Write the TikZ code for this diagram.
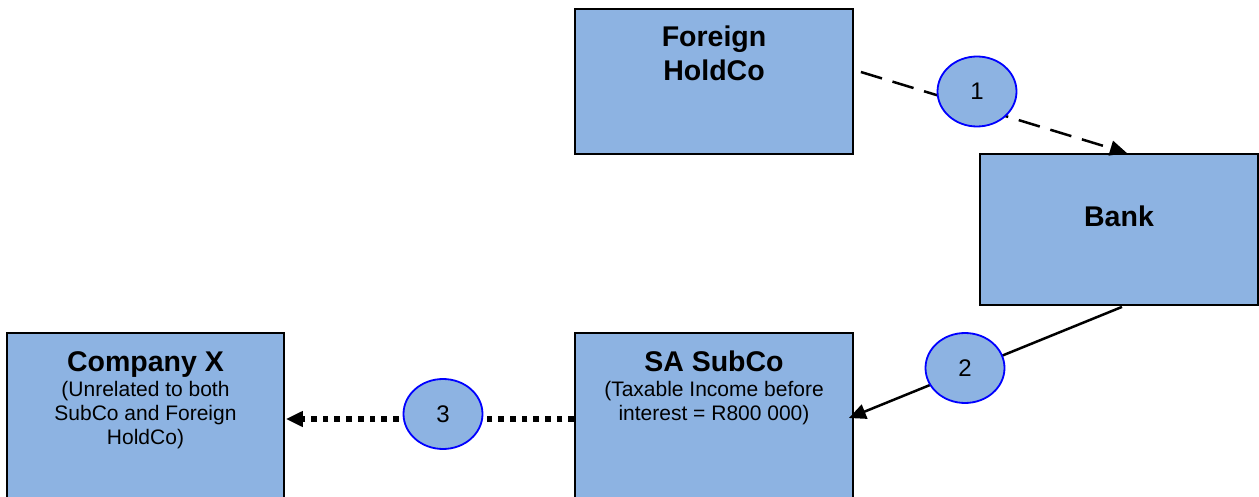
\documentclass[tikz,border=0pt]{standalone}
\usepackage{fontspec}
\setmainfont{Liberation Sans}
\usetikzlibrary{arrows.meta,shapes.geometric,calc}
\definecolor{boxblue}{RGB}{141,179,226}
\definecolor{ringblue}{RGB}{0,0,255}
\tikzset{
  box/.style={draw=black,line width=1.8pt,fill=boxblue,rectangle,inner sep=0pt},
  badge/.style={draw=ringblue,line width=1.8pt,fill=boxblue,ellipse,inner sep=0pt,minimum width=79pt,minimum height=70pt,font=\fontsize{24}{28}\selectfont},
  ttl/.style={anchor=base,inner sep=0pt,font=\bfseries\fontsize{28.5}{33}\selectfont},
  sub/.style={anchor=base,inner sep=0pt,font=\fontsize{21}{24.5}\selectfont},
  tip/.style={-{Triangle[length=17pt,width=15pt]}},
}
\begin{document}
\begin{tikzpicture}[x=1pt,y=-1pt]
\useasboundingbox (0,0) rectangle (1259,497);
\clip (0,0) rectangle (1259,497);
% boxes
\node[box,minimum width=278pt,minimum height=145pt] (fh) at (714,81.5) {};
\node[box,minimum width=278pt,minimum height=151pt] (bank) at (1119,229.5) {};
\node[box,minimum width=277pt,minimum height=200pt] (cx) at (145.5,433) {};
\node[box,minimum width=278pt,minimum height=200pt] (sa) at (714,433) {};
% texts
\node[ttl] (fh1) at ($(fh.north)+(0,38.5)$) {Foreign};
\node[ttl] (fh2) at ($(fh.north)+(0,72)$) {HoldCo};
\node[ttl] (bk1) at ($(bank.north)+(0,73)$) {Bank};
\node[ttl] (cx1) at ($(cx.north)+(0,39)$) {Company X};
\node[sub] (cx2) at ($(cx.north)+(0,64)$) {(Unrelated to both};
\node[sub] (cx3) at ($(cx.north)+(0,88)$) {SubCo and Foreign};
\node[sub] (cx4) at ($(cx.north)+(0,112)$) {HoldCo)};
\node[ttl] (sa1) at ($(sa.north)+(0,39)$) {SA SubCo};
\node[sub] (sa2) at ($(sa.north)+(0,64)$) {(Taxable Income before};
\node[sub] (sa3) at ($(sa.north)+(0,88)$) {interest = R800 000)};
% connectors
\draw[tip,line width=2.5pt,dash pattern=on 22pt off 11pt] ($(fh.east)+(7,-9.5)$) -- ($(bank.north)+(8,0)$);
\draw[tip,line width=2.5pt] ($(bank.south)+(3,1)$) -- ($(sa.east)+(-5,-15)$);
\draw[tip,line width=5.7pt,dash pattern=on 5.7pt off 6pt] ($(sa.west)+(0,-14)$) -- ($(cx.east)+(1,-14)$);
% badges
\node[badge] (b1) at (977,91.5) {1};
\node[badge] (b2) at (965,368) {2};
\node[badge] (b3) at (443,414) {3};
\end{tikzpicture}
\end{document}
